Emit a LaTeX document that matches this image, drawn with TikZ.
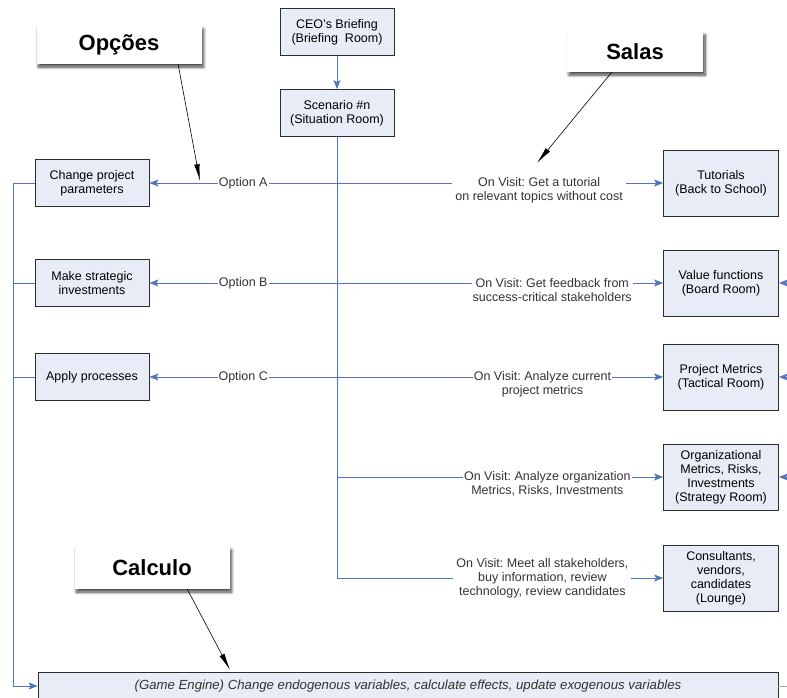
\documentclass[tikz,border=0pt]{standalone}
\usepackage{fontspec}
\setmainfont{Liberation Sans}
\usepackage{xcolor}
\usetikzlibrary{arrows.meta,shadows.blur}

\definecolor{linkblue}{RGB}{82,116,188}
\definecolor{boxfill}{RGB}{231,236,246}
\definecolor{boxline}{RGB}{45,45,45}
\frenchspacing

\begin{document}
\begin{tikzpicture}[x=1pt, y=-1pt,
  box/.style={draw=boxline, fill=boxfill, line width=0.8pt, align=center,
    inner sep=2pt, font=\fontsize{12.5}{14}\selectfont},
  optbox/.style={box, minimum width=114pt, minimum height=47pt},
  roombox/.style={box, minimum width=115pt, minimum height=66pt},
  link/.style={linkblue, line width=0.8pt},
  flow/.style={link, -{Stealth[length=9pt,width=7pt,inset=2pt]}},
  lbl/.style={fill=white, inner sep=1pt, align=center, text=black!80,
    font=\fontsize{12.5}{14}\selectfont},
  callout/.style={fill=white, font=\fontsize{22}{24}\selectfont\bfseries,
    blur shadow={shadow xshift=2pt, shadow yshift=-3pt, shadow opacity=75,
      shadow blur steps=10, shadow blur radius=3pt}},
  pointer/.style={-{Latex[length=17pt,width=5.5pt]}, line width=0.6pt}]
  \useasboundingbox (0,0) rectangle (787,697);

  % top of the flow
  \node[optbox] (ceo) at (337,32) {CEO's Briefing\\(Briefing~ Room)};
  \node[optbox] (scen) at (337,113) {Scenario \#n\\(Situation Room)};
  \draw[flow] (ceo) -- (scen);

  % options (left)
  \node[optbox] (chg) at (92,183) {Change project\\parameters};
  \node[optbox] (inv) at (92,283) {Make strategic\\investments};
  \node[optbox] (proc) at (92,377) {Apply processes};

  % rooms (right)
  \node[roombox] (tut) at (721,183) {Tutorials\\(Back to School)};
  \node[roombox] (val) at (721,283) {Value functions\\(Board Room)};
  \node[roombox] (met) at (721,377) {Project Metrics\\(Tactical Room)};
  \node[roombox] (org) at (721,477) {Organizational\\Metrics, Risks,\\Investments\\(Strategy Room)};
  \node[roombox] (lng) at (721,578) {Consultants,\\vendors,\\candidates\\(Lounge)};

  % game engine
  \node[box, minimum width=740pt, minimum height=28pt,
        font=\fontsize{13.2}{14}\selectfont\itshape, text=black!80] (eng) at (408,686)
        {(Game Engine) Change endogenous variables, calculate effects, update exogenous variables};

  % spine from the situation room
  \draw[link] (scen.south) -- (scen.south |- lng.west);
  \draw[flow] (scen.south |- chg.east) -- node[lbl]{Option A} (chg.east);
  \draw[flow] (scen.south |- inv.east) -- node[lbl]{Option B} (inv.east);
  \draw[flow] (scen.south |- proc.east) -- node[lbl]{Option C} (proc.east);
  \draw[flow] (scen.south |- tut.west) -- node[lbl, pos=.62, yshift=-7pt, inner sep=3pt]
        {On Visit: Get a tutorial\\on relevant topics without cost} (tut.west);
  \draw[flow] (scen.south |- val.west) -- node[lbl, pos=.66, yshift=-7pt]
        {On Visit: Get feedback from\\success-critical stakeholders} (val.west);
  \draw[flow] (scen.south |- met.west) -- node[lbl, pos=.63, yshift=-7pt]
        {On Visit: Analyze current\\project metrics} (met.west);
  \draw[flow] (scen.south |- org.west) -- node[lbl, pos=.645, yshift=-7pt]
        {On Visit: Analyze organization\\Metrics, Risks, Investments} (org.west);
  \draw[flow] (scen.south |- lng.west) -- node[lbl, pos=.63, inner sep=3pt]
        {On Visit: Meet all stakeholders,\\buy information, review\\technology, review candidates} (lng.west);

  % feedback bus into the game engine
  \coordinate (bus) at (13,183);
  \draw[flow] (chg.west) -- (bus) |- (eng.west);
  \draw[link] (inv.west) -- (inv.west -| bus);
  \draw[link] (proc.west) -- (proc.west -| bus);

  % links coming in from the right edge
  \foreach \r in {val,met,org}{
    \coordinate (in-\r) at (787,0 |- \r.east);
    \draw[flow] (in-\r) -- (\r.east);
  }
  \coordinate (out-eng) at (787,686);
  \draw[gray!70, line width=0.8pt] (eng.east) -- (out-eng);

  % callouts
  \node[callout, minimum width=165pt, minimum height=38pt] (opc) at (119,45) {Opções};
  \node[callout, minimum width=136pt, minimum height=40pt] (sal) at (635,52) {Salas};
  \node[callout, minimum width=155pt, minimum height=42pt] (cal) at (152,568) {Calculo};
  \coordinate (tip-opc) at (200,181);
  \coordinate (tip-sal) at (537,163);
  \coordinate (tip-cal) at (230,670);
  \draw[pointer] (opc.-18) -- (tip-opc);
  \draw[pointer] (sal.-139) -- (tip-sal);
  \draw[pointer] (cal.-31) -- (tip-cal);
\end{tikzpicture}
\end{document}
